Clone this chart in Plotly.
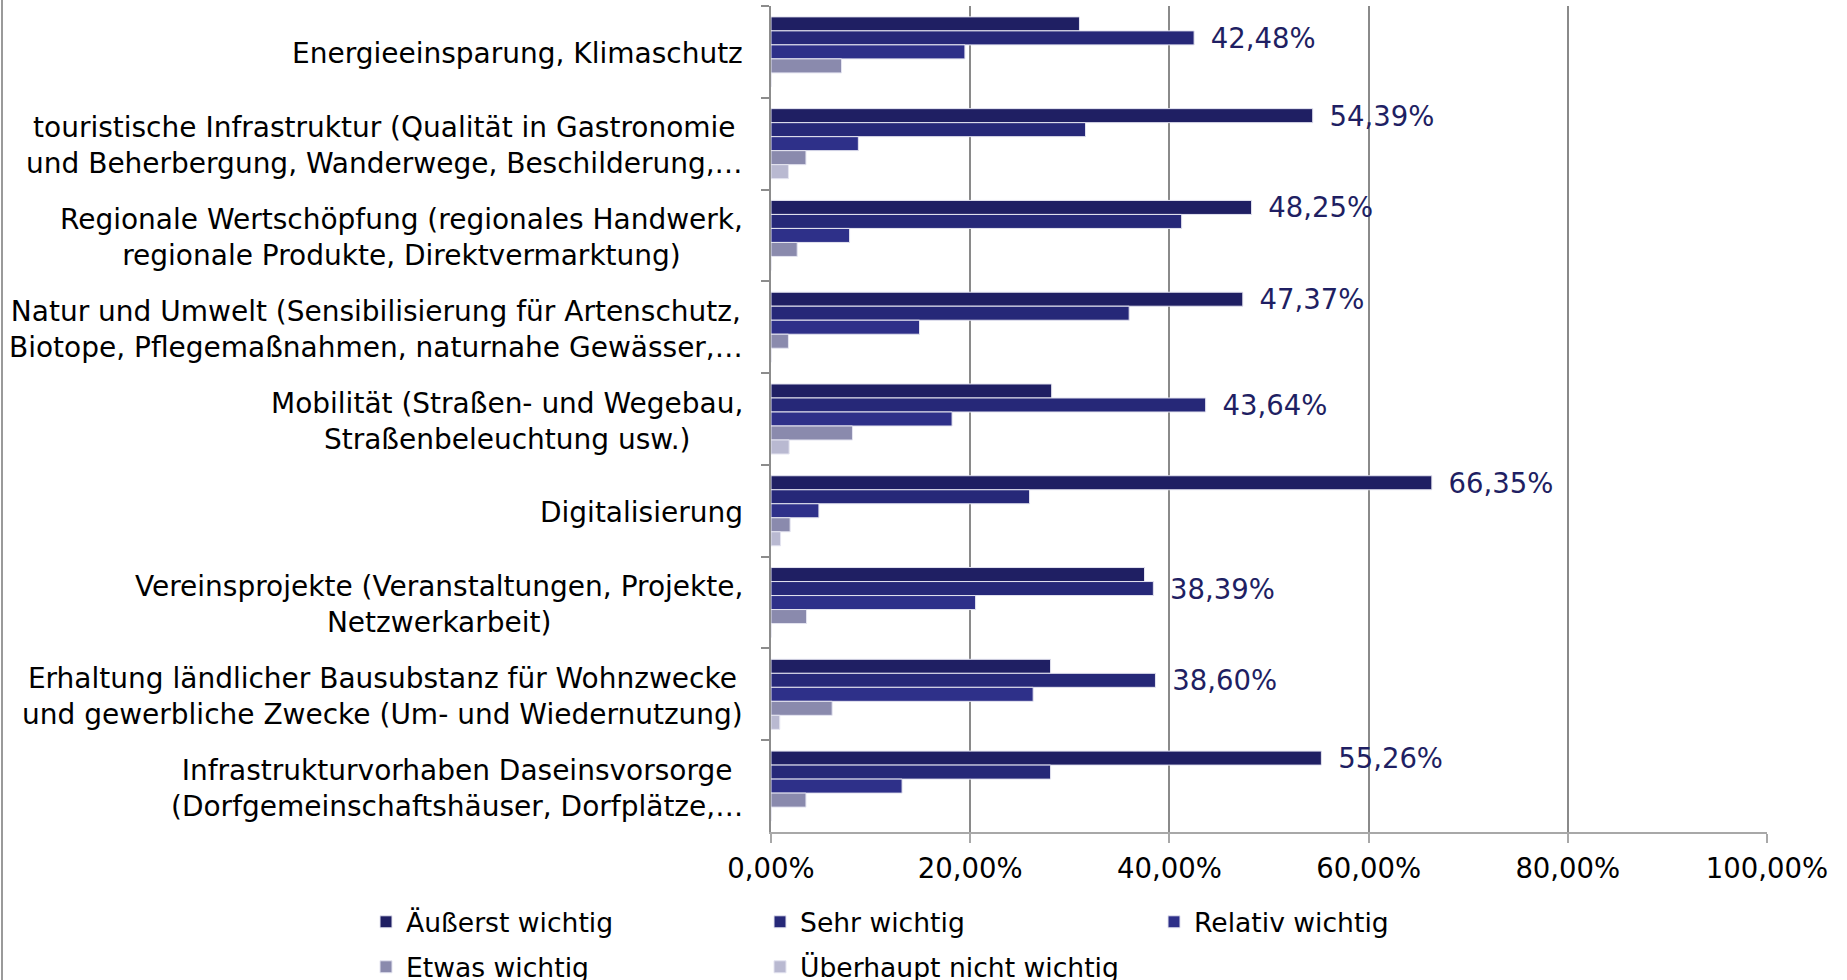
import plotly.graph_objects as go

categories = [
    "Energieeinsparung, Klimaschutz",
    "touristische Infrastruktur (Qualität in Gastronomie<br>und Beherbergung, Wanderwege, Beschilderung,…",
    "Regionale Wertschöpfung (regionales Handwerk,<br>regionale Produkte, Direktvermarktung)",
    "Natur und Umwelt (Sensibilisierung für Artenschutz,<br>Biotope, Pflegemaßnahmen, naturnahe Gewässer,…",
    "Mobilität (Straßen- und Wegebau,<br>Straßenbeleuchtung usw.)",
    "Digitalisierung",
    "Vereinsprojekte (Veranstaltungen, Projekte,<br>Netzwerkarbeit)",
    "Erhaltung ländlicher Bausubstanz für Wohnzwecke<br>und gewerbliche Zwecke (Um- und Wiedernutzung)",
    "Infrastrukturvorhaben Daseinsvorsorge<br>(Dorfgemeinschaftshäuser, Dorfplätze,…",
]

series_names = ["Äußerst wichtig", "Sehr wichtig", "Relativ wichtig",
                "Etwas wichtig", "Überhaupt nicht wichtig"]

aeusserst = [30.97, 54.39, 48.25, 47.37, 28.18, 66.35, 37.50, 28.07, 55.26]
sehr      = [42.48, 31.58, 41.23, 35.96, 43.64, 25.96, 38.39, 38.60, 28.07]
relativ   = [19.47,  8.77,  7.89, 14.91, 18.18,  4.81, 20.54, 26.32, 13.16]
etwas     = [ 7.08,  3.51,  2.63,  1.75,  8.18,  1.92,  3.57,  6.14,  3.51]
ueberhaupt = [0.00,  1.75,  0.00,  0.00,  1.82,  0.96,  0.00,  0.88,  0.00]

x_ticks = [0, 20, 40, 60, 80, 100]
x_tick_labels = ["0,00%", "20,00%", "40,00%", "60,00%", "80,00%", "100,00%"]

series_values = [aeusserst, sehr, relativ, etwas, ueberhaupt]
colors = ["#1f1f63", "#262878", "#2e3089", "#8a8aad", "#b9b9d1"]
legend_rows = ["legend", "legend", "legend", "legend2", "legend2"]

FONT = "DejaVu Sans, Verdana, sans-serif"

# label only the largest value of each category
max_idx = []
for ci in range(len(categories)):
    vals = [s[ci] for s in series_values]
    max_idx.append(vals.index(max(vals)))

fig = go.Figure()
for si, (name, vals, col) in enumerate(zip(series_names, series_values, colors)):
    texts = []
    for ci, v in enumerate(vals):
        if max_idx[ci] == si:
            texts.append("\u2002" + f"{v:.2f}".replace(".", ",") + "%")
        else:
            texts.append("")
    fig.add_trace(go.Bar(
        name=name, y=categories, x=vals, orientation="h",
        marker=dict(color=col, line=dict(color="#e4e4f0", width=1)),
        text=texts, textposition="outside", constraintext="none",
        cliponaxis=False, legend=legend_rows[si],
        textfont=dict(family=FONT, size=27.5, color="#1f1f63"),
        hoverinfo="skip",
    ))

for cat in categories:
    fig.add_annotation(
        x=0, xref="paper", y=cat, yref="y", xanchor="right", yanchor="middle",
        xshift=-26, yshift=-2, align="center", showarrow=False, text=cat,
        font=dict(family=FONT, size=28, color="#000000"),
    )

W, H = 1847, 980
L, R, T, B = 771, 80, 6, 148
pw, ph = W - L - R, H - T - B
fig.add_shape(type="line", xref="paper", yref="paper",
              x0=(2 - L) / pw, x1=(2 - L) / pw,
              y0=-(B) / ph, y1=(H - B) / ph,
              line=dict(color="#9a9a9a", width=2))

legend_common = dict(
    orientation="h", xref="paper", yref="paper",
    x=(366 - L) / pw, xanchor="left", yanchor="middle",
    entrywidth=349, entrywidthmode="pixels",
    font=dict(family=FONT, size=26.6, color="#000000"),
    traceorder="normal", tracegroupgap=0, itemclick=False,
    bgcolor="rgba(0,0,0,0)",
)

fig.update_layout(
    width=W, height=H,
    margin=dict(l=L, r=R, t=T, b=B, pad=0, autoexpand=False),
    paper_bgcolor="white", plot_bgcolor="white",
    barmode="group", bargap=0.237, bargroupgap=0,
    separators=",.",
    font=dict(family=FONT, size=27, color="#000000"),
    showlegend=True,
    legend=dict(legend_common, y=(H - B - 922) / ph),
    legend2=dict(legend_common, y=(H - B - 967) / ph),
    xaxis=dict(
        range=[0, 100], tickvals=x_ticks, ticktext=x_tick_labels,
        showgrid=True, gridcolor="#8a8a8a", gridwidth=1.5,
        zeroline=False, showline=True, linecolor="#a8a8a8", linewidth=2,
        ticks="outside", ticklen=9, tickcolor="#a8a8a8", tickwidth=1.5,
        ticklabelstandoff=2,
        tickfont=dict(family=FONT, size=27.5, color="#000000"),
        fixedrange=True,
    ),
    yaxis=dict(
        autorange="reversed", type="category",
        showticklabels=False, showgrid=False, zeroline=False,
        showline=True, linecolor="#8c8c8c", linewidth=2,
        ticks="outside", tickson="boundaries", ticklen=8,
        tickcolor="#8c8c8c", tickwidth=1.5, fixedrange=True,
    ),
)

fig.write_html(
    "out.html",
    config={"displayModeBar": False},
    post_script="document.body.style.margin='0';document.body.style.overflow='hidden';",
)
